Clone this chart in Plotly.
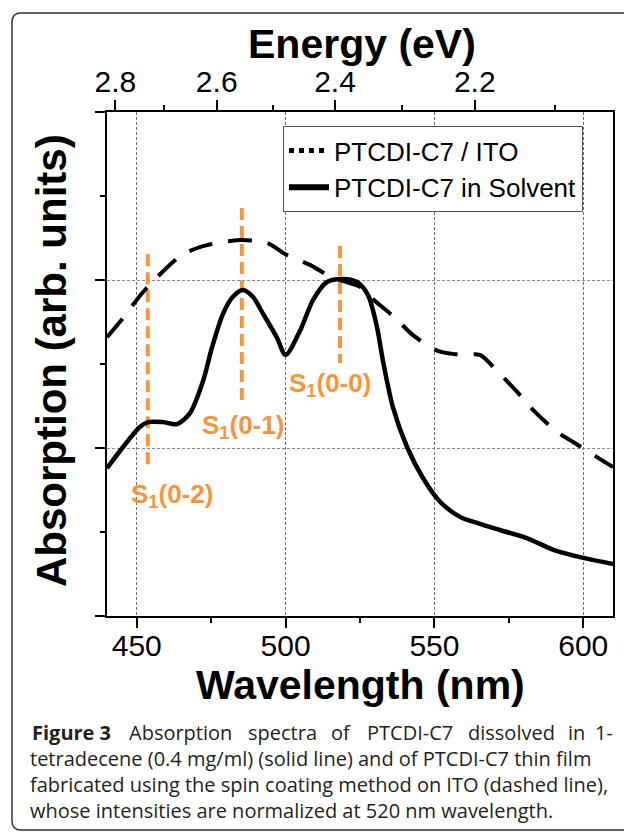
import plotly.graph_objects as go

# ---------------- data ----------------
solvent_wl = [440, 445.4, 451, 453.8, 458.8, 463.5, 467.9, 472.3, 475.3, 479, 482.3, 485.7,
              489, 492.4, 497, 500, 504.9, 509.2, 513.9, 519, 524, 527.7, 530.7, 532.7,
              536.1, 540.8, 546.2, 551.9, 558.6, 565, 572, 581, 590, 600, 610]
solvent_abs = [0.44, 0.503, 0.5625, 0.577, 0.577, 0.571, 0.604, 0.70, 0.80, 0.90, 0.95, 0.97,
               0.95, 0.90, 0.83, 0.777, 0.85, 0.94, 0.994, 1.003, 0.994, 0.955, 0.86, 0.76,
               0.62, 0.503, 0.41, 0.34, 0.295, 0.275, 0.256, 0.232, 0.197, 0.173, 0.155]

ito_wl = [440, 445.4, 451.7, 457, 465, 471.2, 479, 485.4, 493.8, 500.5, 508.2, 515, 520, 525,
          529, 536.8, 542.8, 550.9, 556.3, 560, 565.3, 571, 577.8, 583.2, 591.2, 596.6, 604.6, 610]
ito_abs = [0.83, 0.887, 0.96, 1.01, 1.074, 1.098, 1.113, 1.119, 1.11, 1.074, 1.045, 1.01, 0.995, 0.98,
           0.946, 0.887, 0.836, 0.79, 0.78, 0.778, 0.777, 0.73, 0.667, 0.613, 0.548, 0.518, 0.473, 0.443]

peak_wl = [453.7, 485.3, 518.3]
peak_top = [1.077, 1.214, 1.101]
peak_bottom = [0.435, 0.637, 0.753]
peak_labels = ["S<sub>1</sub>(0-2)", "S<sub>1</sub>(0-1)", "S<sub>1</sub>(0-0)"]
label_wl = [461.8, 485.7, 514.9]
label_abs = [0.36, 0.565, 0.69]

x_ticks = [450, 500, 550, 600]
x_minor = [475, 525, 575]
energy_ticks = [2.8, 2.6, 2.4, 2.2]
energy_minor = [2.7, 2.5, 2.3, 2.1]
y_major = [0, 0.5, 1.0, 1.5]
y_minor = [0.25, 0.75, 1.25]

series_names = ["PTCDI-C7 / ITO", "PTCDI-C7 in Solvent"]
x_title = "Wavelength (nm)"
top_title = "Energy (eV)"
y_title = "Absorption (arb. units)"
caption_line1 = ["<b>Figure 3</b>", "Absorption", "spectra", "of", "PTCDI-C7", "dissolved", "in", "1-"]
caption_lines = [
    "tetradecene (0.4 mg/ml) (solid line) and of PTCDI-C7 thin film",
    "fabricated using the spin coating method on ITO (dashed line),",
    "whose intensities are normalized at 520 nm wavelength.",
]

HC = 1239.84
ORANGE = "#F7953B"
FONT = "Liberation Sans, Arial, sans-serif"

# ---------------- geometry helpers ----------------
W, H = 624, 832
L, R, T, B = 107, 613, 112, 616


def px(x):
    return (x - L) / (R - L)


def py(y):
    return (B - y) / (B - T)


fig = go.Figure()

# orange vertical markers
vx, vy = [], []
for w, t, b in zip(peak_wl, peak_top, peak_bottom):
    vx += [w, w, None]
    vy += [t, b, None]
fig.add_trace(go.Scatter(x=vx, y=vy, mode="lines", showlegend=False, hoverinfo="skip",
                         line=dict(color=ORANGE, width=4, dash="12px,6px")))

fig.add_trace(go.Scatter(x=ito_wl, y=ito_abs, mode="lines", showlegend=False,
                         line=dict(color="black", width=4, dash="24px,16px", shape="spline",
                                   smoothing=0.8)))
fig.add_trace(go.Scatter(x=solvent_wl, y=solvent_abs, mode="lines", showlegend=False,
                         line=dict(color="black", width=4.5, shape="spline", smoothing=0.8)))

# legend entries (on top axis)
fig.add_trace(go.Scatter(x=[None], y=[None], mode="lines", name=series_names[0], xaxis="x2",
                         line=dict(color="black", width=5, dash="dot")))
fig.add_trace(go.Scatter(x=[None], y=[None], mode="lines", name=series_names[1], xaxis="x2",
                         line=dict(color="black", width=6)))

annotations = []
for w, a, t in zip(label_wl, label_abs, peak_labels):
    annotations.append(dict(x=w, y=a, xref="x", yref="y", text="<b>%s</b>" % t, showarrow=False,
                            font=dict(family=FONT, size=26, color=ORANGE),
                            xanchor="center", yanchor="middle"))

annotations.append(dict(x=px(362), y=py(44), xref="paper", yref="paper", text="<b>%s</b>" % top_title,
                        showarrow=False, font=dict(family=FONT, size=41, color="black"),
                        xanchor="center", yanchor="middle"))
annotations.append(dict(x=px(360), y=py(685), xref="paper", yref="paper", text="<b>%s</b>" % x_title,
                        showarrow=False, font=dict(family=FONT, size=41, color="black"),
                        xanchor="center", yanchor="middle"))
annotations.append(dict(x=px(51), y=py(361), xref="paper", yref="paper", text="<b>%s</b>" % y_title,
                        showarrow=False, textangle=-90, font=dict(family=FONT, size=42, color="black"),
                        xanchor="center", yanchor="middle"))

CAP_FONT = "Open Sans, Noto Sans, sans-serif"
CAP_COLOR = "#231F20"
CAP_SIZE = 20
word_x = [30, 127, 246, 329, 365, 466, 566, 615]
for k, (wx, wd) in enumerate(zip(word_x, caption_line1)):
    annotations.append(dict(x=px(wx), y=py(732), xref="paper", yref="paper", text=wd,
                            showarrow=False, font=dict(family=CAP_FONT, size=CAP_SIZE, color=CAP_COLOR),
                            xanchor="right" if k == len(word_x) - 1 else "left", yanchor="middle"))
for i, line in enumerate(caption_lines):
    annotations.append(dict(x=px(28), y=py(758 + 26 * i), xref="paper", yref="paper", text=line,
                            showarrow=False, font=dict(family=CAP_FONT, size=CAP_SIZE, color=CAP_COLOR),
                            xanchor="left", yanchor="middle"))

frame_path = ("M {a},{t} L {b},{t} Q {l},{t} {l},{t2} L {l},{b2} Q {l},{bt} {b},{bt} L {a},{bt}").format(
    a=px(640), b=px(21), l=px(12), t=py(13), t2=py(22), b2=py(821), bt=py(830))

fig.update_layout(
    width=W, height=H,
    margin=dict(l=L, r=W - R, t=T, b=H - B, pad=0),
    paper_bgcolor="white", plot_bgcolor="white",
    font=dict(family=FONT, color="black"),
    showlegend=True,
    legend=dict(x=px(283), y=py(126), xanchor="left", yanchor="top",
                bordercolor="#555555", borderwidth=1, bgcolor="white", itemwidth=40,
                font=dict(family=FONT, size=26, color="black"), tracegroupgap=0),
    xaxis=dict(range=[440, 610], tickmode="array", tickvals=x_ticks, ticks="outside",
               ticklen=10, tickwidth=2, tickcolor="black", showline=True, linewidth=2,
               linecolor="black", mirror=False, zeroline=False, automargin=False,
               ticklabelstandoff=-8,
               tickfont=dict(family=FONT, size=30, color="black"),
               showgrid=True, gridcolor="#6f6f6f", gridwidth=1, griddash="3px,2px",
               minor=dict(tickmode="array", tickvals=x_minor, ticks="outside", ticklen=5,
                          tickwidth=2, tickcolor="black", showgrid=False)),
    xaxis2=dict(range=[440, 610], overlaying="x", side="top", anchor="y", tickmode="array",
                tickvals=[HC / e for e in energy_ticks], ticktext=[str(e) for e in energy_ticks],
                ticks="outside", ticklen=10, tickwidth=2, tickcolor="black", showline=True,
                linewidth=2, linecolor="black", showgrid=False, zeroline=False, automargin=False,
                ticklabelstandoff=-4,
                tickfont=dict(family=FONT, size=30, color="black"),
                minor=dict(tickmode="array", tickvals=[HC / e for e in energy_minor],
                           ticks="outside", ticklen=5, tickwidth=2, tickcolor="black",
                           showgrid=False)),
    yaxis=dict(range=[0, 1.5], tickmode="array", tickvals=y_major, ticks="outside",
               ticklen=10, tickwidth=2, tickcolor="black", showticklabels=False,
               showline=True, linewidth=2, linecolor="black", mirror=True, zeroline=False,
               automargin=False,
               showgrid=True, gridcolor="#8a8a8a", gridwidth=1, griddash="3px,2px",
               minor=dict(tickmode="array", tickvals=y_minor, ticks="outside", ticklen=5,
                          tickwidth=2, tickcolor="black", showgrid=False)),
    annotations=annotations,
    shapes=[dict(type="path", xref="paper", yref="paper", path=frame_path,
                 line=dict(color="#333333", width=1.5))],
)

fig.write_html("out.html", config={"displayModeBar": False},
               post_script="document.body.style.margin='0';document.body.style.overflow='hidden';")
